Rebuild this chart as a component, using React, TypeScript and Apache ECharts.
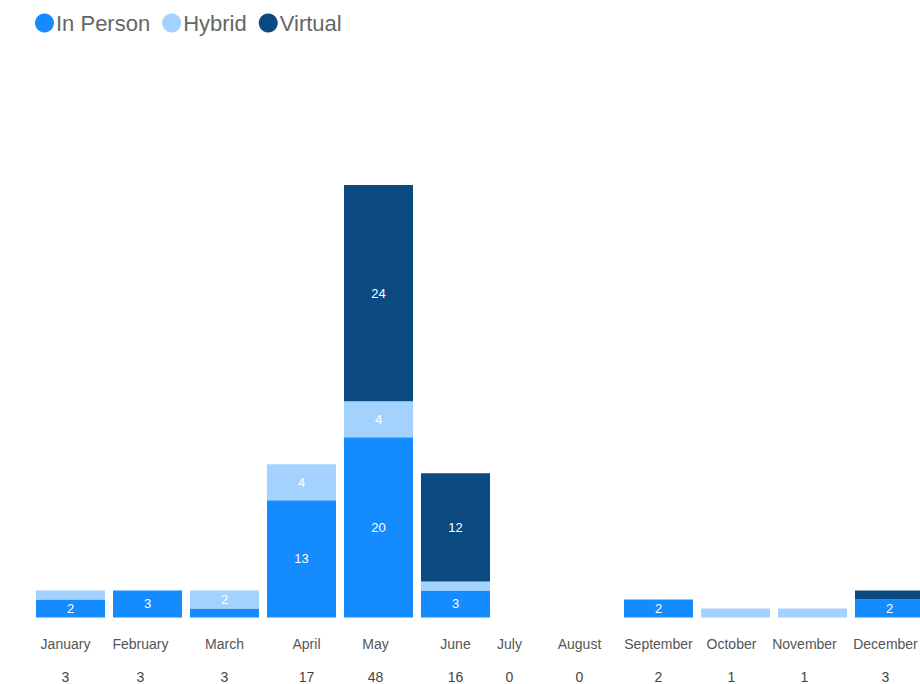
import React, { useEffect, useRef } from "react";
import * as echarts from "echarts";

const months = ["January", "February", "March", "April", "May", "June", "July", "August", "September", "October", "November", "December"];
const inPerson = [2, 3, 1, 13, 20, 3, 0, 0, 2, 0, 0, 2];
const hybrid = [1, 0, 2, 4, 4, 1, 0, 0, 0, 1, 1, 0];
const virtual = [0, 0, 0, 0, 24, 12, 0, 0, 0, 0, 0, 1];
const totals = [3, 3, 3, 17, 48, 16, 0, 0, 2, 1, 1, 3];

// the reference squeezes the empty months: three panels of months (start, end index)
const panels: [number, number][] = [[0, 6], [6, 8], [8, 12]];
// layout of each panel (left px, width px)
const panelLayout = [
  { left: 32, width: 462 },
  { left: 494, width: 126 },
  { left: 620, width: 308 },
];
// horizontal nudges of the axis labels (px, negative = left)
const labelShift = [-5, -7, 0, 5, -3, 0, -16, -9, 0, -4, -8, -4];

const FONT = '"Helvetica Neue", "Liberation Sans", Arial, sans-serif';
const seriesDefs = [
  { name: "In Person", data: inPerson, color: "#148cff" },
  { name: "Hybrid", data: hybrid, color: "#a4d2fe" },
  { name: "Virtual", data: virtual, color: "#0b4a80" },
];

export default function App() {
  const ref = useRef<HTMLDivElement>(null);
  useEffect(() => {
    if (!ref.current) return;
    const chart = echarts.init(ref.current, undefined, { renderer: "svg" });
    const rich: Record<string, any> = {};
    labelShift.forEach((s, i) => {
      const pad = s < 0 ? [0, -2 * s, 0, 0] : [0, 0, 0, 2 * s];
      rich["m" + i] = { fontSize: 14, color: "#555", lineHeight: 33, fontFamily: FONT, padding: pad };
      rich["t" + i] = { fontSize: 14, color: "#444", lineHeight: 33, fontFamily: FONT, padding: pad };
    });
    const barLabel = {
      show: true,
      position: "inside",
      color: "#fff",
      fontSize: 13,
      fontFamily: FONT,
      formatter: (p: any) => (p.value >= 2 ? String(p.value) : ""),
    };
    const grids = panelLayout.map((p) => ({ left: p.left, width: p.width, top: 185, height: 434, containLabel: false }));
    const xAxes = panels.map(([a, b], gi) => ({
      type: "category",
      gridIndex: gi,
      data: months.slice(a, b),
      axisLine: { show: false },
      axisTick: { show: false },
      axisLabel: {
        interval: 0,
        margin: 10,
        formatter: (v: string, i: number) => `{m${a + i}|${v}}\n{t${a + i}|${totals[a + i]}}`,
        rich,
      },
    }));
    const yAxes = panels.map((_, gi) => ({
      type: "value",
      gridIndex: gi,
      min: 0,
      max: 48,
      show: false,
      splitLine: { show: false },
    }));
    const series: any[] = [];
    panels.forEach(([a, b], gi) => {
      seriesDefs.forEach((s) => {
        series.push({
          name: s.name,
          type: "bar",
          stack: "s" + gi,
          xAxisIndex: gi,
          yAxisIndex: gi,
          data: s.data.slice(a, b),
          barCategoryGap: "10.4%",
          itemStyle: { color: s.color },
          label: barLabel,
        });
      });
    });
    chart.setOption({
      animation: false,
      textStyle: { fontFamily: FONT },
      legend: {
        left: 30,
        top: 7,
        icon: "circle",
        itemWidth: 19,
        itemHeight: 19,
        itemGap: 12,
        textStyle: { fontSize: 22, color: "#666", fontFamily: FONT, padding: [0, 0, 0, -3] },
        data: seriesDefs.map((s) => s.name),
      },
      grid: grids,
      xAxis: xAxes,
      yAxis: yAxes,
      series,
    });
    return () => chart.dispose();
  }, []);
  return (
    <div style={{ position: "absolute", left: 0, top: 0, width: 920, height: 684, overflow: "hidden" }}>
      <div ref={ref} style={{ width: 980, height: 684 }} />
    </div>
  );
}
